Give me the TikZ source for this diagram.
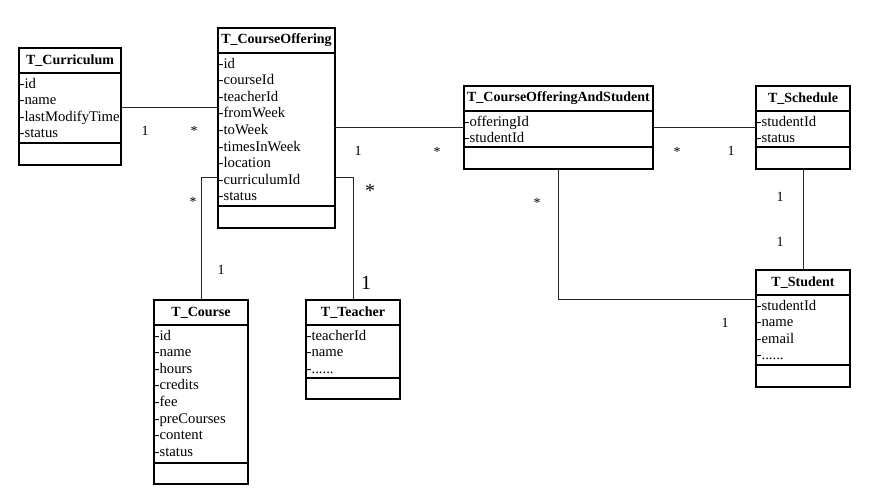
\documentclass[tikz,border=0pt]{standalone}
\usepackage{fontspec}
\setmainfont{Liberation Serif}
\usetikzlibrary{calc,fit}
\newcommand\sixdots{......}
\tikzset{
 box/.style={draw=black, line width=1.2pt, inner sep=0pt, outer sep=0pt, fill=white},
 titletext/.style={font=\fontsize{14}{16}\selectfont\bfseries},
 attr/.style={font=\fontsize{14.7}{16}\selectfont, inner xsep=0.5pt, inner ysep=0pt},
 conn/.style={draw=black!85, line width=0.8pt},
 mult/.style={font=\fontsize{14}{16}\selectfont, inner sep=0pt},
 bigmult/.style={font=\fontsize{20}{22}\selectfont, inner sep=0pt},
}
\newcommand\umlclass[8]{%
  \node[box, titletext, minimum width=#4, minimum height=25, anchor=north west] (#1-h) at (#2,#3) {#5};
  \node[box, minimum width=#4, minimum height=#6, anchor=north] (#1-b) at (#1-h.south) {};
  \node[box, minimum width=#4, minimum height=#7, anchor=north] (#1-e) at (#1-b.south) {};
  \foreach \a [count=\i] in {#8} {
    \node[attr, anchor=base west] (#1-a\i) at ($(#1-b.north west)+(0,{15+16.6*(\i-1)})$) {-\a};
  }
  \node[fit=(#1-h)(#1-e), inner sep=0pt] (#1) {};
}
\begin{document}
\begin{tikzpicture}[x=1pt,y=-1pt]
\path[use as bounding box, fill=white] (0,0) rectangle (881,499);

\umlclass{cur}{19}{48}{102}{T\_Curriculum}{70}{22}{id,name,lastModifyTime,status}
\umlclass{co}{218}{28}{117}{T\_CourseOffering}{153}{22}{id,courseId,teacherId,fromWeek,toWeek,timesInWeek,location,curriculumId,status}
\umlclass{coas}{464}{86}{189}{T\_CourseOfferingAndStudent}{36}{22}{offeringId,studentId}
\umlclass{sch}{756}{86}{94}{T\_Schedule}{36}{22}{studentId,status}
\umlclass{stu}{756}{270}{94}{T\_Student}{70}{22}{studentId,name,email,\sixdots}
\umlclass{crs}{154}{300}{94}{T\_Course}{138}{21}{id,name,hours,credits,fee,preCourses,content,status}
\umlclass{tch}{306}{300}{94}{T\_Teacher}{53}{21}{teacherId,name,\sixdots}

\coordinate (L1) at (0,107);
\coordinate (L2) at (0,127);
\coordinate (L3) at (0,299);
\coordinate (L4) at (0,177);

\draw[conn] (cur.east |- L1) -- (co.west |- L1);
\draw[conn] (co.east |- L2) -- (coas.west |- L2);
\draw[conn] (coas.east |- L2) -- (sch.west |- L2);
\draw[conn] (sch.south) -- (stu.north);
\draw[conn] (coas.south) -- (coas.south |- L3) -- (stu.west |- L3);
\draw[conn] (co.west |- L4) -- (crs.north |- L4) -- (crs.north);
\draw[conn] (co.east |- L4) -- (tch.north |- L4) -- (tch.north);

\node[mult] (m1) at (145,131) {1};
\node[mult] (m2) at (194,131) {*};
\node[mult] (m3) at (193,202) {*};
\node[mult] (m4) at (221,270) {1};
\node[mult] (m5) at (358,151) {1};
\node[mult] (m6) at (437,152) {*};
\node[bigmult] (m7) at (370,191) {*};
\node[bigmult] (m8) at (366,283) {1};
\node[mult] (m9) at (677,152) {*};
\node[mult] (m10) at (731,151) {1};
\node[mult] (m11) at (780,197) {1};
\node[mult] (m12) at (780,242) {1};
\node[mult] (m13) at (537,203) {*};
\node[mult] (m14) at (725,323) {1};
\end{tikzpicture}
\end{document}
